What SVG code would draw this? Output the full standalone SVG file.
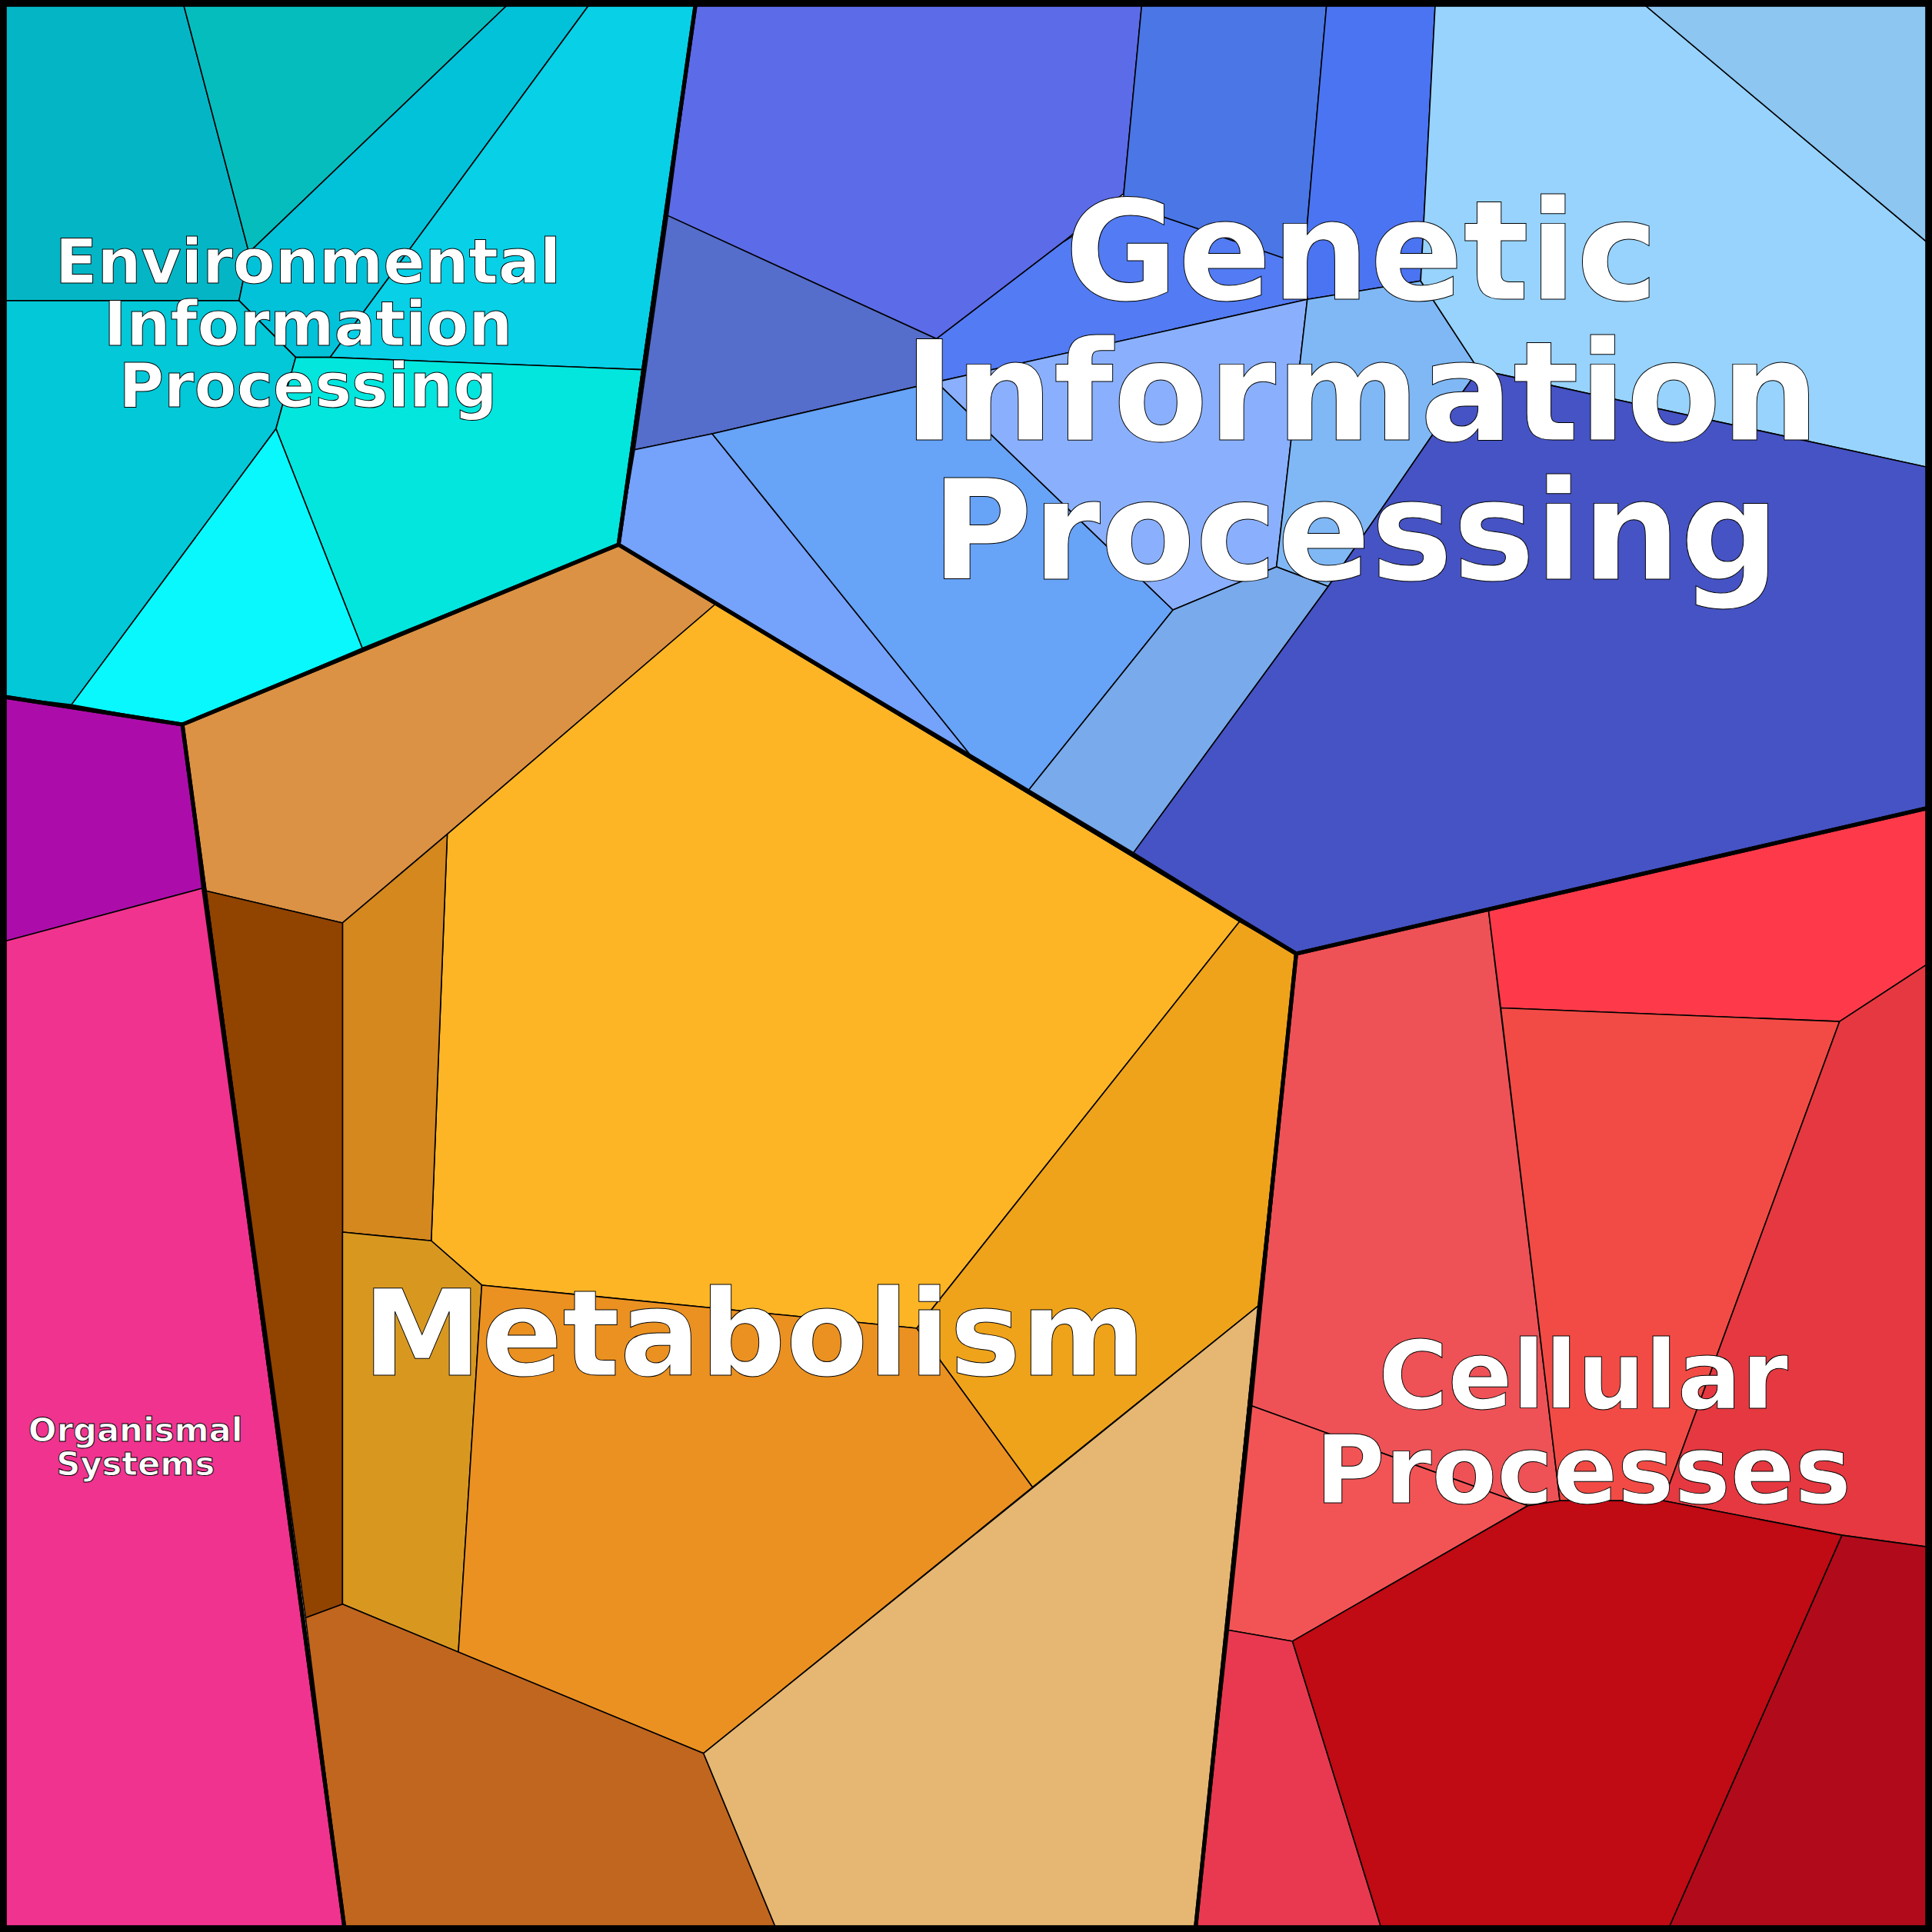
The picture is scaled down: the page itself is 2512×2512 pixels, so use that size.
<svg xmlns="http://www.w3.org/2000/svg" width="2512" height="2512" viewBox="0 0 2512 2512">
<style>
.c{stroke:#000;stroke-width:1;stroke-linejoin:round}
.t{fill:none;stroke:#000;stroke-width:3.2;stroke-linejoin:round}
.lab{font-family:"DejaVu Sans",sans-serif;font-weight:bold;fill:#fff;stroke:#000;stroke-width:0.6;text-anchor:middle}
</style>
<g transform="scale(1.60204)">
<g id="environmental">
<polygon class="c" fill="#04B6C5" points="0,0 148,0 202,205 194,244 0,244"/>
<polygon class="c" fill="#06BDBE" points="148,0 416,0 202,205"/>
<polygon class="c" fill="#02C2DA" points="202,205 416,0 481,0 268,290 240,290 194,244"/>
<polygon class="c" fill="#08D0E6" points="481,0 565,0 521,300 268,290"/>
<polygon class="c" fill="#02C8D8" points="0,244 194,244 240,290 224,348 58,572 0,565"/>
<polygon class="c" fill="#02E6DE" points="268,290 521,300 502,442 294,526 224,348 240,290"/>
<polygon class="c" fill="#08F8FE" points="224,348 294,526 148,588 58,572"/>
</g>
<g id="genetic">
<polygon class="c" fill="#5C6BE8" points="565,0 927,0 912,157 862,197 760,275 542,175"/>
<polygon class="c" fill="#4A76E6" points="927,0 1077,0 1058,215 912,170 912,157"/>
<polygon class="c" fill="#4B74F2" points="1077,0 1165,0 1153,228 1061,243 1058,215"/>
<polygon class="c" fill="#527BF4" points="862,197 912,165 1058,215 1061,243 760,310 760,275"/>
<polygon class="c" fill="#556DCB" points="542,175 760,275 760,310 578,352 515,365"/>
<polygon class="c" fill="#75A2FB" points="515,365 578,352 787,612 502,442"/>
<polygon class="c" fill="#67A3F7" points="578,352 760,310 952,495 835,641 787,612"/>
<polygon class="c" fill="#8AB0FD" points="760,310 1061,243 1036,460 952,495"/>
<polygon class="c" fill="#7FB8F5" points="1061,243 1153,228 1200,300 1168,345 1078,476 1036,460"/>
<polygon class="c" fill="#79AAEB" points="952,495 1036,460 1078,476 920,692 835,641"/>
<polygon class="c" fill="#97D3FD" points="1165,0 1330,0 1568,200 1568,380 1200,300 1153,228"/>
<polygon class="c" fill="#8CC6F1" points="1330,0 1568,0 1568,200"/>
<polygon class="c" fill="#4653C4" points="1200,300 1568,380 1568,655 1052,774 920,692 1078,476 1168,345"/>
</g>
<g id="metabolism">
<polygon class="c" fill="#DB9244" points="148,588 502,442 581,490 363,677 278,749 167,723"/>
<polygon class="c" fill="#FDB526" points="581,490 1006,748 744,1078 391,1043 350,1007 363,677"/>
<polygon class="c" fill="#EFA31A" points="1006,748 1052,774 1021,1060 838,1207 744,1078"/>
<polygon class="c" fill="#D4881E" points="363,677 350,1007 278,1000 278,749"/>
<polygon class="c" fill="#914300" points="167,723 278,749 278,1302 248,1313"/>
<polygon class="c" fill="#D89820" points="278,1000 350,1007 391,1043 372,1341 278,1302"/>
<polygon class="c" fill="#EB9121" points="391,1043 744,1078 838,1207 571,1423 372,1341"/>
<polygon class="c" fill="#C1661E" points="248,1313 278,1302 571,1423 631,1568 280,1568"/>
<polygon class="c" fill="#E5B772" points="571,1423 1021,1060 970,1568 631,1568"/>
</g>
<g id="organismal">
<polygon class="c" fill="#AC0DAA" points="0,565 148,588 164,721 0,765"/>
<polygon class="c" fill="#F0338F" points="0,765 164,721 280,1568 0,1568"/>
</g>
<g id="cellular">
<polygon class="c" fill="#EE5256" points="1052,774 1208,738 1266,1218 1240,1222 1016,1141"/>
<polygon class="c" fill="#FE3A4A" points="1208,738 1568,655 1568,780 1493,829 1218,818"/>
<polygon class="c" fill="#F24B45" points="1218,818 1493,829 1350,1218 1266,1218"/>
<polygon class="c" fill="#E63840" points="1493,829 1568,780 1568,1256 1495,1246 1350,1218"/>
<polygon class="c" fill="#F25456" points="1016,1141 1240,1222 1049,1332 997,1323"/>
<polygon class="c" fill="#E83950" points="997,1323 1049,1332 1122,1568 970,1568"/>
<polygon class="c" fill="#C00A14" points="1049,1332 1240,1222 1266,1218 1350,1218 1495,1246 1353,1568 1122,1568"/>
<polygon class="c" fill="#B10B1B" points="1495,1246 1568,1256 1568,1568 1353,1568"/>
</g>
<g id="borders">
<polygon class="t" points="0,0 565,0 502,442 148,588 0,565"/>
<polygon class="t" points="565,0 1568,0 1568,655 1052,774 502,442"/>
<polygon class="t" points="502,442 1052,774 970,1568 280,1568 148,588"/>
<polygon class="t" points="0,565 148,588 280,1568 0,1568"/>
<polygon class="t" points="1052,774 1568,655 1568,1568 970,1568"/>
<rect x="2.5" y="2.5" width="1563" height="1563" fill="none" stroke="#000" stroke-width="6"/>
</g>
<g id="labels">
<text class="lab" font-size="50"><tspan x="250" y="230">Environmental</tspan><tspan x="250" y="280">Information</tspan><tspan x="250" y="330">Processing</tspan></text>
<text class="lab" font-size="112"><tspan x="1105" y="243">Genetic</tspan><tspan x="1105" y="357">Information</tspan><tspan x="1100" y="470">Processing</tspan></text>
<text class="lab" font-size="97" x="612" y="1116">Metabolism</text>
<text class="lab" font-size="77"><tspan x="1285" y="1143">Cellular</tspan><tspan x="1285" y="1220">Processes</tspan></text>
<text class="lab" font-size="27"><tspan x="110" y="1170">Organismal</tspan><tspan x="110" y="1197">Systems</tspan></text>
</g>
</g>
</svg>
